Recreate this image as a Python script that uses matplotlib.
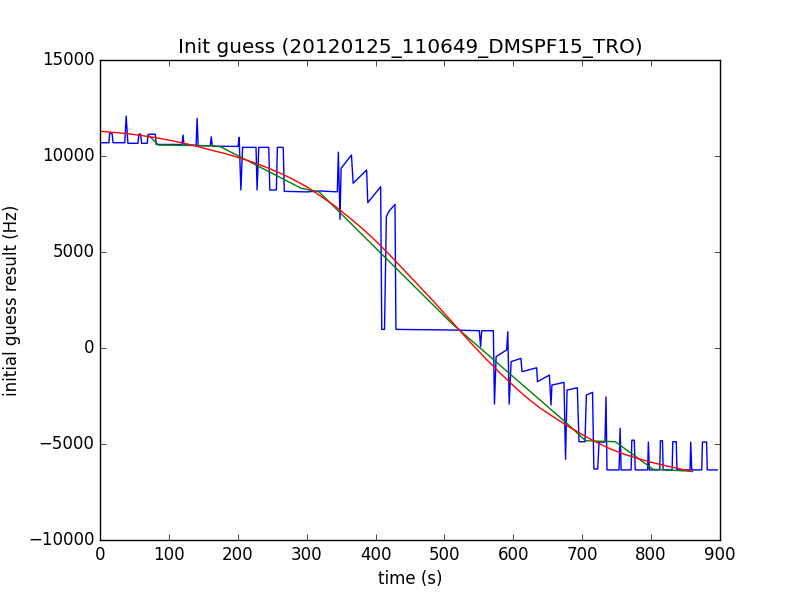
import matplotlib
matplotlib.use('Agg')
import matplotlib.pyplot as plt

# raw initial guess (blue)
blue_t = [0, 13, 14, 17.5, 19, 36, 38, 40.5, 55, 56.5, 59, 60.5, 68.5, 70, 80.3, 81.7,
          119, 120.5, 122, 139.5, 141, 142.5, 160, 161.6, 163, 200.5, 202, 204.5, 207,
          226.5, 228, 230.5, 245, 246.5, 256, 257.5, 266, 267.5, 300, 320, 340, 344.5,
          346, 348.4, 350, 365, 367.5, 387, 388.7, 407.4, 409, 413, 415.7, 419, 428.2,
          429.6, 450, 480, 520, 550.6, 552.5, 554, 571, 572.6, 575, 590.3, 592, 594,
          596.8, 611, 612.6, 633.9, 635, 652.3, 654.7, 656, 673.5, 675.8, 678, 692.9,
          695.3, 704, 706, 715, 716.9, 722.5, 724.4, 733, 734.5, 736, 753.5, 755, 756.5,
          771, 772, 775.5, 777, 795, 796, 797.5, 812.5, 813.5, 816.5, 817.5, 830.5, 831.5,
          836.5, 837.5, 856.5, 857.5, 859, 873.5, 874.5, 880.5, 881.5, 896]
blue_v = [10690, 10690, 11180, 11180, 10690, 10690, 12080, 10660, 10660, 11140, 11140, 10660,
          10660, 11130, 11130, 10600, 10600, 11090, 10580, 10560, 11960, 10540, 10530, 11000,
          10510, 10500, 10970, 8230, 10450, 10450, 8230, 10450, 10450, 8230, 8230, 10450,
          10450, 8160, 8130, 8180, 8140, 8140, 10200, 6700, 9360, 10050, 8580, 9270, 7570,
          8400, 970, 970, 6840, 7100, 7480, 970, 960, 950, 930, 900, 70, 900, 900, -2920,
          -450, -100, 850, -2920, -710, -540, -1230, -1030, -1755, -1410, -2970, -1930,
          -1790, -5800, -2190, -2070, -4880, -4880, -2450, -2310, -6300, -6300, -4900, -4900,
          -2550, -6350, -6350, -4180, -6350, -6350, -4800, -4800, -6350, -6350, -4900, -6350,
          -6350, -4830, -4830, -6350, -6350, -4880, -4880, -6350, -6350, -4900, -6350, -6350,
          -4900, -4900, -6350, -6350]

# piecewise fit (green)
green_t = [70, 85, 165, 175, 292, 318, 510, 675, 701, 705, 748, 803, 860]
green_v = [11094, 10570, 10530, 10480, 8320, 8130, 1300, -3838, -4705, -4830, -4880, -6320, -6420]

# smooth fit (red)
red_t = [0, 20, 40, 60, 80, 100, 120, 140, 160, 180, 200, 220, 240, 260, 280, 300, 320,
         340, 360, 380, 400, 420, 440, 460, 480, 500, 520, 540, 560, 580, 600, 620, 640,
         660, 680, 700, 720, 740, 760, 780, 800, 820, 840, 860]
red_v = [11290, 11230, 11160, 11070, 10960, 10830, 10680, 10510, 10320, 10140, 9930, 9700,
         9430, 9130, 8790, 8400, 7920, 7420, 6850, 6250, 5590, 4870, 4110, 3350, 2590, 1800,
         1000, 200, -560, -1280, -1960, -2600, -3160, -3630, -4090, -4510, -4900, -5240,
         -5520, -5750, -5950, -6120, -6280, -6440]

plt.style.use('classic')
plt.figure(figsize=(8, 6))

plt.plot(blue_t, blue_v, 'b')
plt.plot(green_t, green_v, 'g')
plt.plot(red_t, red_v, 'r')

plt.xlim(0, 900)
plt.ylim(-10000, 15000)
plt.xlabel('time (s)')
plt.ylabel('initial guess result (Hz)')
plt.title('Init guess (20120125_110649_DMSPF15_TRO)')
plt.savefig('out.png', dpi=100, facecolor='white')
